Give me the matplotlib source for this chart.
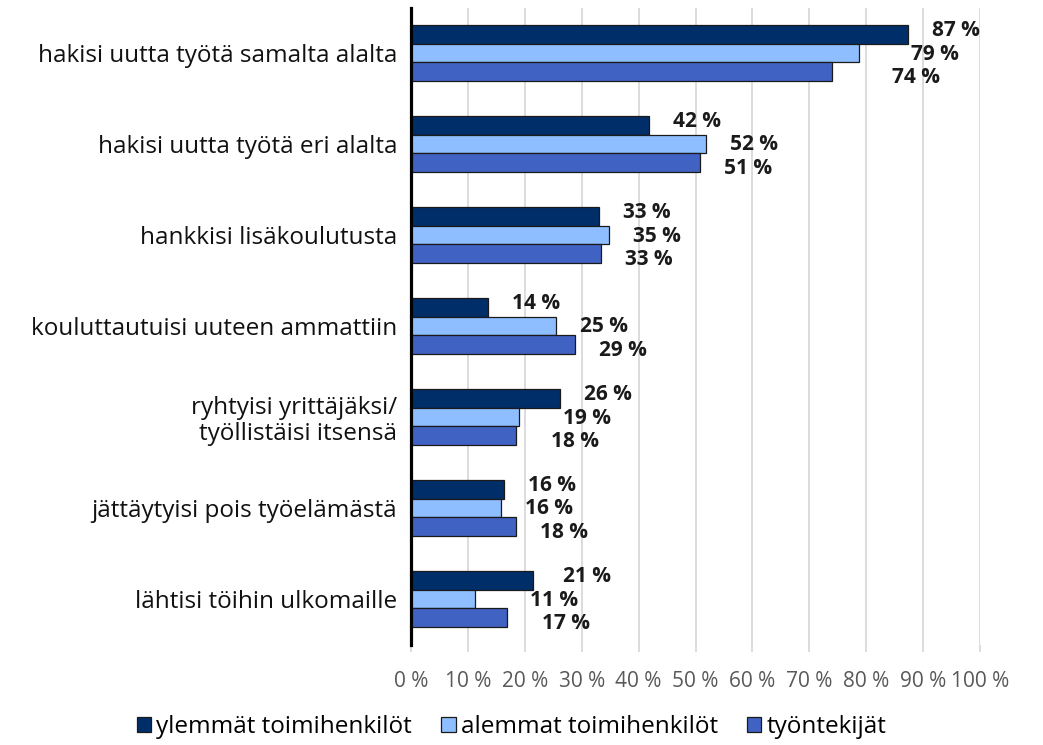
import matplotlib
matplotlib.use("Agg")
import matplotlib.pyplot as plt
from matplotlib.patches import Patch
import numpy as np

plt.rcParams["font.family"] = ["Open Sans", "DejaVu Sans"]

categories = [
    "hakisi uutta työtä samalta alalta",
    "hakisi uutta työtä eri alalta",
    "hankkisi lisäkoulutusta",
    "kouluttautuisi uuteen ammattiin",
    "ryhtyisi yrittäjäksi/\ntyöllistäisi itsensä",
    "jättäytyisi pois työelämästä",
    "lähtisi töihin ulkomaille",
]
series_names = ["ylemmät toimihenkilöt", "alemmat toimihenkilöt", "työntekijät"]
ylemmat = [87.4, 41.9, 33.0, 13.6, 26.2, 16.4, 21.4]
alemmat = [78.8, 51.9, 34.8, 25.4, 19.0, 15.8, 11.3]
tyontekijat = [74.0, 50.8, 33.4, 28.8, 18.4, 18.4, 16.8]
series = [ylemmat, alemmat, tyontekijat]
colors = ["#002E69", "#8EBEFF", "#4062C2"]
ticks = list(range(0, 101, 10))

# the value labels were moved by hand in the original (extra px to the right)
label_nudge = [
    [0, 28, 36],
    [0, 0, 0],
    [0, 0, 0],
    [0, 0, 0],
    [0, 20, 11],
    [0, 0, 0],
    [6, 31, 11],
]

PX = 0.72  # points per pixel at dpi 100

fig = plt.figure(figsize=(10.43, 7.45), dpi=100)
ax = fig.add_axes([411 / 1043, 1 - 644.5 / 745, (980 - 411) / 1043, (644.5 - 7.5) / 745])

h = 0.205
y = np.arange(len(categories))
for j, vals in enumerate(series):
    ax.barh(y + (j - 1) * h, vals, height=h, color=colors[j],
            edgecolor="#1a1a1a", linewidth=0.9, zorder=3)
    dy = [-4, 1, 6][j]
    for i, v in enumerate(vals):
        ax.annotate(f"{round(v)} %", xy=(v, y[i] + (j - 1) * h),
                    xytext=((48 + label_nudge[i][j]) * PX, -dy * PX),
                    textcoords="offset points", ha="center", va="center",
                    fontsize=15, fontweight="bold", color="#1a1a1a")

ax.set_xlim(0, 100)
ax.set_ylim(len(categories) - 0.5, -0.5)
ax.set_yticks(y)
ax.set_yticklabels(categories, fontsize=17.5, color="#111111", linespacing=1.12)
ax.set_xticks(ticks)
ax.set_xticklabels([f"{t} %" for t in ticks], fontsize=15, color="#595959")

ax.grid(axis="x", color="#D9D9D9", linewidth=1.3, zorder=0)
ax.tick_params(axis="y", length=0, pad=10)
ax.tick_params(axis="x", length=5, width=1.3, color="#D9D9D9", pad=14)
for s in ["top", "right", "bottom"]:
    ax.spines[s].set_visible(False)
ax.spines["left"].set_linewidth(2.3)
ax.spines["left"].set_color("black")
ax.spines["left"].set_zorder(5)

handles = [Patch(facecolor=c, edgecolor="#1a1a1a", linewidth=0.9) for c in colors]
fig.legend(handles, series_names, loc="center", bbox_to_anchor=(511.5 / 1043, 1 - 727 / 745),
           ncol=3, frameon=False, fontsize=17.5, handlelength=0.6, handleheight=0.6,
           handletextpad=0.2, columnspacing=1.2)

fig.savefig("out.png", dpi=100)
